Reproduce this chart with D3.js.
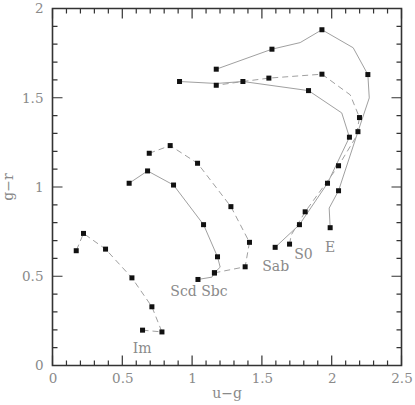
<!DOCTYPE html>
<html>
<head>
<meta charset="utf-8">
<script src="https://cdn.jsdelivr.net/npm/d3@7"></script>
<style>
  html, body { margin: 0; padding: 0; background: #fff; }
  svg { display: block; }
  text { font-family: "DejaVu Serif", serif; fill: #8a8a8a; }
</style>
</head>
<body>
<svg id="chart" width="415" height="405" xmlns="http://www.w3.org/2000/svg"></svg>
<script>
// ---- data (u-g, g-r, marker flag) ----
const trackE = [[1.989,0.772,1],[1.982,0.882,0],[2.049,0.979,1],[2.188,1.310,1],[2.269,1.499,0],[2.259,1.630,1],[2.154,1.780,0],[1.930,1.881,1],[1.774,1.809,0],[1.572,1.772,1],[1.173,1.660,1]];
const trackS0 = [[1.698,0.680,1],[1.710,0.731,0],[1.810,0.861,1],[2.049,1.119,1],[2.175,1.282,0],[2.199,1.389,1],[2.133,1.516,0],[1.930,1.632,1],[1.550,1.610,1],[1.364,1.591,0],[1.173,1.570,1]];
const trackSab = [[1.595,0.662,1],[1.769,0.789,1],[1.970,1.021,1],[2.127,1.279,1],[2.072,1.415,0],[1.834,1.540,1],[1.364,1.591,1],[1.173,1.580,0],[0.910,1.591,1]];
const trackSbc = [[1.160,0.519,1],[1.380,0.553,1],[1.411,0.690,1],[1.278,0.890,1],[1.039,1.133,1],[0.843,1.232,1],[0.693,1.189,1]];
const trackScd = [[1.042,0.482,1],[1.142,0.495,0],[1.160,0.519,1],[1.201,0.551,0],[1.182,0.609,1],[1.082,0.789,1],[0.867,1.011,1],[0.681,1.090,1],[0.549,1.021,1]];
const trackIm = [[0.645,0.198,1],[0.784,0.188,1],[0.712,0.329,1],[0.569,0.491,1],[0.380,0.652,1],[0.222,0.740,1],[0.170,0.643,1]];
const tracks = [
  {name: "E",   pts: trackE,   dashed: false},
  {name: "S0",  pts: trackS0,  dashed: true},
  {name: "Sab", pts: trackSab, dashed: false},
  {name: "Sbc", pts: trackSbc, dashed: true},
  {name: "Scd", pts: trackScd, dashed: false},
  {name: "Im",  pts: trackIm,  dashed: true}
];
const labelText = ["E", "S0", "Sab", "Scd Sbc", "Im"];
const labelU    = [1.989, 1.798, 1.599, 1.049, 0.642];
const labelG    = [0.638, 0.596, 0.529, 0.390, 0.071];
const xMajor = [0, 0.5, 1, 1.5, 2, 2.5];
const yMajor = [0, 0.5, 1, 1.5, 2];
const xMinor = d3.range(0, 26).map(i => i / 10);
const yMinor = d3.range(0, 21).map(i => i / 10);
const xTitle = "u\u2212g";
const yTitle = "g\u2212r";

// ---- layout ----
const L = 52.5, R = 401.5, T = 8.5, B = 365.5;
const x = d3.scaleLinear().domain([0, 2.5]).range([L, R]);
const y = d3.scaleLinear().domain([0, 2]).range([B, T]);
const svg = d3.select("#chart");
const axisColor = "#333333";

// tick labels via d3 axes
function styleAxis(g) {
  g.select(".domain").remove();
  g.selectAll(".tick line").remove();
  g.selectAll(".tick text").attr("font-family", "DejaVu Serif, serif").attr("font-size", 13.5).attr("fill", "#8a8a8a");
}
svg.append("g").attr("transform", `translate(0,${B})`)
  .call(d3.axisBottom(x).tickValues(xMajor).tickSize(0).tickPadding(8).tickFormat(d => String(d))).call(styleAxis);
svg.append("g").attr("transform", `translate(${L},0)`)
  .call(d3.axisLeft(y).tickValues(yMajor).tickSize(0).tickPadding(9).tickFormat(d => String(d))).call(styleAxis);

// tick marks on all four sides, pointing inward
const isMajor = v => Math.abs(v * 2 - Math.round(v * 2)) < 1e-6;
let tickPath = "";
xMinor.forEach(v => {
  const len = isMajor(v) ? 10 : 5;
  tickPath += `M${x(v)},${B}v${-len}M${x(v)},${T}v${len}`;
});
yMinor.forEach(v => {
  const len = isMajor(v) ? 10 : 5;
  tickPath += `M${L},${y(v)}h${len}M${R},${y(v)}h${-len}`;
});
svg.append("path").attr("d", tickPath).attr("fill", "none")
  .attr("stroke", axisColor).attr("stroke-width", 1.2);

// frame
svg.append("path")
  .attr("d", `M${L},${T}H${R}V${B}H${L}Z`)
  .attr("fill", "none").attr("stroke", axisColor).attr("stroke-width", 1.6);

// tracks
const line = d3.line().x(d => x(d[0])).y(d => y(d[1]));
svg.append("g").selectAll("path").data(tracks).join("path")
  .attr("d", d => line(d.pts))
  .attr("fill", "none")
  .attr("stroke", "#a0a0a0")
  .attr("stroke-width", 1)
  .attr("stroke-dasharray", d => d.dashed ? "6,4" : null);

// markers
const ms = 5;
svg.append("g").selectAll("rect")
  .data(tracks.flatMap(t => t.pts.filter(p => p[2] === 1)))
  .join("rect")
  .attr("x", d => x(d[0]) - ms / 2).attr("y", d => y(d[1]) - ms / 2)
  .attr("width", ms).attr("height", ms).attr("fill", "#111");

// labels
svg.append("g").selectAll("text").data(labelText).join("text")
  .attr("x", (d, i) => x(labelU[i])).attr("y", (d, i) => y(labelG[i]))
  .attr("text-anchor", "middle").attr("font-size", 14).text(d => d);

// axis titles
svg.append("text").attr("x", (L + R) / 2).attr("y", 398).attr("text-anchor", "middle")
  .attr("font-size", 14).text(xTitle);
svg.append("text").attr("transform", `translate(13,${(T + B) / 2}) rotate(-90)`)
  .attr("text-anchor", "middle").attr("font-size", 14).text(yTitle);
</script>
</body>
</html>
